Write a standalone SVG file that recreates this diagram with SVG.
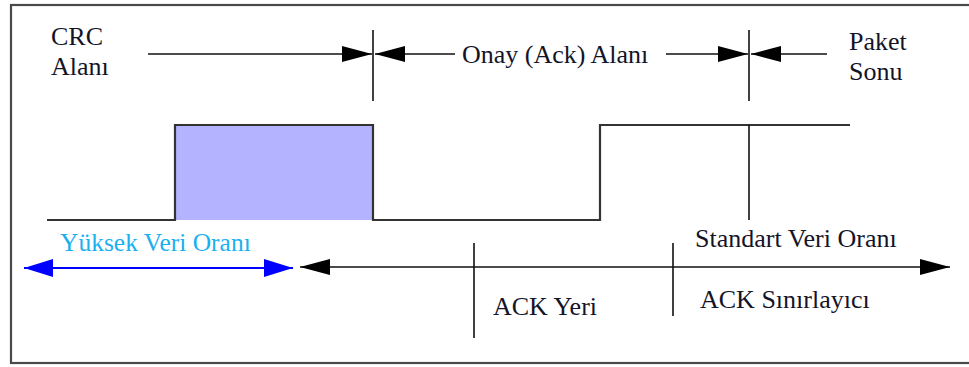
<svg xmlns="http://www.w3.org/2000/svg" width="969" height="367" viewBox="0 0 969 367">
<style>
.t{font-family:'Liberation Serif','DejaVu Serif',serif;font-size:26px;fill:#141428}
.tb{font-family:'Liberation Serif','DejaVu Serif',serif;font-size:25.5px;fill:#1ab0f0}
.ln{stroke:#111;stroke-width:1.6;fill:none}
.bl{stroke:#0000ff;stroke-width:2;fill:none}
.wv{stroke:#333;stroke-width:2.2;fill:none}
</style>
<defs>
<marker id="ah" viewBox="0 0 30 16" refX="30" refY="8" markerWidth="30" markerHeight="16" markerUnits="userSpaceOnUse" orient="auto-start-reverse"><path d="M0,0 L30,8 L0,16 z" fill="#000"/></marker>
<marker id="abl" viewBox="0 0 29 18" refX="29" refY="9" markerWidth="29" markerHeight="18" markerUnits="userSpaceOnUse" orient="auto-start-reverse"><path d="M0,0 L29,9 L0,18 z" fill="#0000ff"/></marker>
</defs>
<rect x="0" y="0" width="969" height="367" fill="#fff"/>
<rect id="frame" x="11" y="5" width="965" height="358" fill="none" stroke="#4a4a4a" stroke-width="2.2"/>
<g id="waveform">
<rect x="175" y="125" width="198" height="95" fill="#b3b3ff"/>
<path class="wv" d="M47,220 H175 V125 H373 V220 H600 V125 H850"/>
</g>
<g id="connectors">
<line class="ln" x1="148" y1="54" x2="372" y2="54" marker-end="url(#ah)"/>
<line class="ln" x1="455" y1="54" x2="375" y2="54" marker-end="url(#ah)"/>
<line class="ln" x1="666" y1="54" x2="748" y2="54" marker-end="url(#ah)"/>
<line class="ln" x1="827" y1="54" x2="751" y2="54" marker-end="url(#ah)"/>
<line class="ln" x1="373" y1="30" x2="373" y2="101"/>
<line class="ln" x1="749" y1="30" x2="749" y2="101"/>
<line class="ln" x1="749" y1="125" x2="749" y2="220"/>
<line class="bl" x1="24" y1="268" x2="293" y2="268" marker-start="url(#abl)" marker-end="url(#abl)"/>
<line class="ln" x1="300" y1="267" x2="950" y2="267" marker-start="url(#ah)" marker-end="url(#ah)"/>
<line class="ln" x1="474" y1="243" x2="474" y2="338"/>
<line class="ln" x1="673" y1="243" x2="673" y2="316"/>
</g>
<g id="crc"><text class="t" x="51" y="45">CRC</text><text class="t" x="51" y="75">Alanı</text></g>
<g id="onay"><text class="t" x="462" y="63">Onay (Ack) Alanı</text></g>
<g id="paket"><text class="t" x="849" y="50">Paket</text><text class="t" x="849" y="80">Sonu</text></g>
<g id="yuksek"><text class="tb" x="60" y="251">Yüksek Veri Oranı</text></g>
<g id="standart"><text class="t" x="695" y="247">Standart Veri Oranı</text></g>
<g id="ackyeri"><text class="t" x="493" y="315">ACK Yeri</text></g>
<g id="acksinir"><text class="t" x="700" y="308">ACK Sınırlayıcı</text></g>
</svg>
